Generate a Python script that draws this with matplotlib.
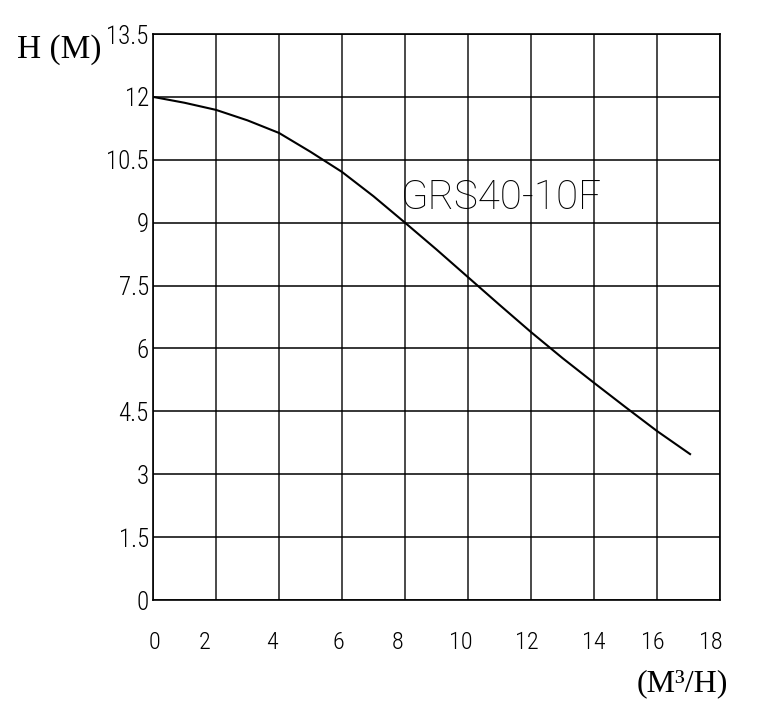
import matplotlib.pyplot as plt
from matplotlib import font_manager

# pump curve
flow = [0, 1, 2, 3, 4, 5, 6, 7, 8, 9, 10, 11, 12, 13, 14, 15, 16, 17.05]
head = [12, 11.86, 11.69, 11.44, 11.14, 10.69, 10.21, 9.63, 9.0, 8.36, 7.70, 7.04,
        6.39, 5.77, 5.18, 4.6, 4.03, 3.48]

x_grid = [0, 2, 4, 6, 8, 10, 12, 14, 16, 18]
y_grid = [0, 1.5, 3, 4.5, 6, 7.5, 9, 10.5, 12, 13.5]
y_labels = ["0", "1.5", "3", "4.5", "6", "7.5", "9", "10.5", "12", "13.5"]
x_labels = ["0", "2", "4", "6", "8", "10", "12", "14", "16", "18"]
# labels on the drawing sit a little off the grid lines
x_label_pos = [0.05, 1.65, 3.78, 5.9, 7.78, 9.78, 11.87, 14.0, 15.87, 17.71]

# pick a narrow font if one is around
names = {(f.name, f.stretch) for f in font_manager.fontManager.ttflist}
fam_names = {n for n, _ in names}
narrow = None
stretch = 'normal'
for cand in ['Roboto Condensed', 'Liberation Sans Narrow', 'Open Sans Condensed']:
    if cand in fam_names:
        narrow = cand
        break
if narrow is None:
    narrow = 'DejaVu Sans'
    if any(n == 'DejaVu Sans' and s == 'condensed' for n, s in names):
        stretch = 'condensed'
tick_font = [narrow, 'DejaVu Sans']
serif_font = ['Liberation Serif', 'DejaVu Serif']

fig = plt.figure(figsize=(7.57, 7.08), dpi=100)
ax = fig.add_axes([153 / 757, 1 - 600 / 708, 567 / 757, 566 / 708])

ax.set_xlim(0, 18)
ax.set_ylim(0, 13.5)

for xv in x_grid:
    ax.axvline(xv, color='#3a3a3a', lw=1.3, zorder=1)
for yv in y_grid:
    ax.axhline(yv, color='black', lw=1.1, zorder=1)

ax.plot(flow, head, color='black', lw=1.5, zorder=3)

ax.set_yticks(y_grid)
ax.set_yticklabels(y_labels, fontfamily=tick_font, fontstretch=stretch, fontsize=18,
                   fontweight='light')
ax.set_xticks(x_label_pos)
ax.set_xticklabels(x_labels, fontfamily=tick_font, fontstretch=stretch, fontsize=17.5,
                   fontweight='light')
ax.tick_params(axis='y', length=0, pad=3)
ax.tick_params(axis='x', length=0, pad=22)

for s in ax.spines.values():
    s.set_color('black')
    s.set_linewidth(1.2)

ax.text(7.85, 9.6, "GRS40-10F", fontfamily=['Roboto', 'DejaVu Sans'], fontweight='light',
        fontsize=29, ha='left', va='center', zorder=4)

fig.text(59 / 757, 1 - 50 / 708, "H (M)", fontfamily=serif_font, fontsize=24,
         ha='center', va='center')
fig.text(682 / 757, 1 - 684 / 708, "(M³/H)", fontfamily=serif_font, fontsize=23,
         ha='center', va='center')

fig.savefig("out.png", dpi=100)
